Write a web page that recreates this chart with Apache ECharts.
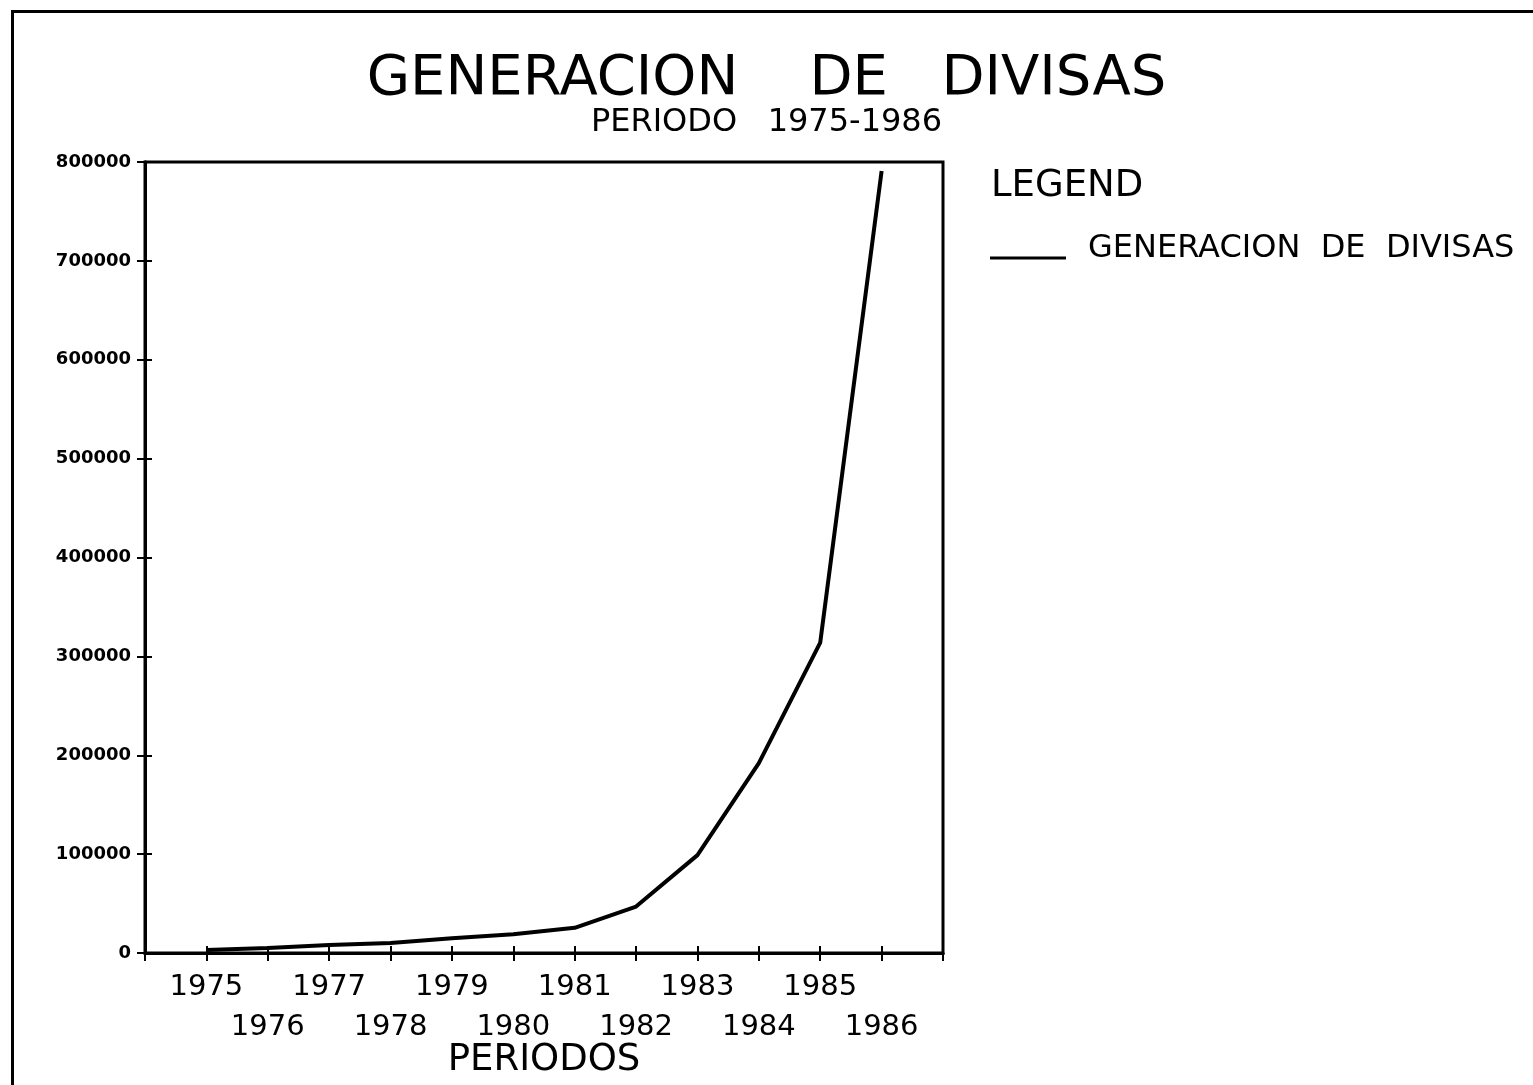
<!DOCTYPE html>
<html>
<head>
<meta charset="utf-8">
<title>Generacion de divisas</title>
<script src="https://cdn.jsdelivr.net/npm/echarts@6/dist/echarts.min.js"></script>
<style>
    html, body { margin: 0; padding: 0; background: #fff; }
    #chart { width: 1533px; height: 1085px; }
</style>
</head>
<body>
<div id="chart"></div>
<script>
// datos
var years = [1975, 1976, 1977, 1978, 1979, 1980, 1981, 1982, 1983, 1984, 1985, 1986];
var divisas = [3000, 5100, 8200, 10200, 14800, 18900, 25500, 47000, 99000, 192000, 314000, 791000];
var yTicks = [0, 100000, 200000, 300000, 400000, 500000, 600000, 700000, 800000];

var font = 'DejaVu Sans';
var myChart = echarts.init(document.getElementById('chart'));

var points = years.map(function (y, i) { return [y, divisas[i]]; });

var gridBox = { left: 145, top: 162, right: 590, bottom: 132, containLabel: false, outerBoundsMode: 'none' };

var xBase = {
    type: 'value',
    min: years[0] - 1,
    max: years[years.length - 1] + 1,
    interval: 1,
    splitLine: { show: false }
};
var yBase = {
    type: 'value',
    min: yTicks[0],
    max: yTicks[yTicks.length - 1],
    interval: yTicks[1] - yTicks[0],
    splitLine: { show: false }
};
// segundo grid encima: la mitad exterior de las marcas "+"
var outerTicks = {
    gridIndex: 1,
    axisLine: { show: true, onZero: false, lineStyle: { color: '#000', width: 3 } },
    axisTick: { show: true, inside: false, length: 8, lineStyle: { color: '#000', width: 2 } },
    axisLabel: { show: false }
};

var option = {
    backgroundColor: '#fff',
    animation: false,
    title: [
        {
            text: 'GENERACION    DE   DIVISAS',
            left: 'center', top: 46,
            textStyle: { fontFamily: font, fontSize: 56, fontWeight: 'normal', color: '#000' }
        },
        {
            text: 'PERIODO   1975-1986',
            left: 'center', top: 102,
            textStyle: { fontFamily: font, fontSize: 32, fontWeight: 'normal', color: '#000' }
        },
        {
            text: 'LEGEND',
            left: 986, top: 163,
            textStyle: { fontFamily: font, fontSize: 37, fontWeight: 'normal', color: '#000' }
        }
    ],
    legend: {
        left: 985, top: 228,
        icon: 'rect',
        itemWidth: 76, itemHeight: 3,
        textStyle: {
            fontFamily: font, fontSize: 32, color: '#000',
            rich: { t: { fontFamily: font, fontSize: 32, color: '#000', padding: [0, 0, 18, 17] } }
        },
        formatter: function (name) { return '{t|' + name.replace(/ /g, '  ') + '}'; },
        data: ['GENERACION DE DIVISAS']
    },
    graphic: [{
        type: 'rect',
        left: 10, top: 9,
        shape: { width: 1600, height: 1200 },
        style: { fill: 'none', stroke: '#000', lineWidth: 3 }
    }],
    grid: [
        Object.assign({}, gridBox, {
            show: true, backgroundColor: 'rgba(0,0,0,0)', borderColor: '#000', borderWidth: 3
        }),
        Object.assign({}, gridBox, { show: false })
    ],
    xAxis: [
        Object.assign({}, xBase, {
            gridIndex: 0,
            position: 'bottom',
            z: 5,
            name: 'PERIODOS',
            nameLocation: 'middle',
            nameGap: 89,
            nameMoveOverlap: false,
            nameTextStyle: { fontFamily: font, fontSize: 37, color: '#000' },
            axisLine: { show: true, lineStyle: { color: '#000', width: 3 } },
            axisTick: { show: true, inside: true, length: 7, lineStyle: { color: '#000', width: 2 } },
            axisLabel: {
                margin: 14,
                fontFamily: font, fontSize: 29, color: '#000',
                lineHeight: 40,
                formatter: function (v) {
                    if (v < years[0] || v > years[years.length - 1]) return '';
                    return (v % 2 === 1) ? String(v) : '\n' + v;
                }
            }
        }),
        Object.assign({}, xBase, { position: 'bottom' }, outerTicks)
    ],
    yAxis: [
        Object.assign({}, yBase, {
            gridIndex: 0,
            position: 'left',
            z: 5,
            axisLine: { show: true, lineStyle: { color: '#000', width: 3 } },
            axisTick: { show: true, inside: true, length: 7, lineStyle: { color: '#000', width: 2 } },
            axisLabel: {
                margin: 14, fontFamily: font, fontSize: 18, fontWeight: 'bold', color: '#000',
                formatter: function (v) { return String(v); }
            }
        }),
        Object.assign({}, yBase, { position: 'left' }, outerTicks)
    ],
    series: [
        {
            name: 'GENERACION DE DIVISAS',
            type: 'line',
            xAxisIndex: 0,
            yAxisIndex: 0,
            data: points,
            symbol: 'none',
            lineStyle: { color: '#000', width: 4 },
            itemStyle: { color: '#000' }
        },
        {
            // serie vacia del grid de marcas exteriores
            name: 'ticks',
            type: 'line',
            xAxisIndex: 1,
            yAxisIndex: 1,
            data: [],
            symbol: 'none'
        }
    ]
};

myChart.setOption(option);
</script>
</body>
</html>
